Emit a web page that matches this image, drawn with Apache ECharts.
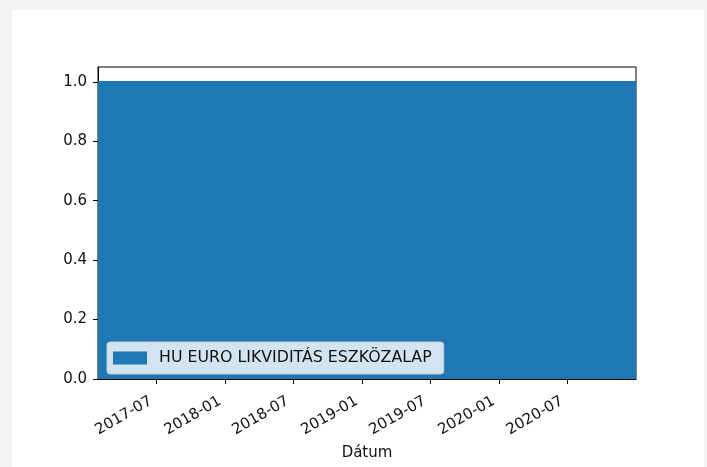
<!DOCTYPE html>
<html>
<head>
<meta charset="utf-8">
<script src="https://cdn.jsdelivr.net/npm/echarts@6/dist/echarts.min.js"></script>
<style>
  html, body { margin: 0; padding: 0; background: #f3f3f3; }
  #panel { position: absolute; left: 12px; top: 10px; width: 692px; height: 457px; background: #ffffff; }
  #chart { position: absolute; left: 0; top: 0; width: 707px; height: 467px; }
</style>
</head>
<body>
<div id="panel"></div>
<div id="chart"></div>
<script>
// ---- data ----
const seriesName = 'HU EURO LIKVIDITÁS ESZKÖZALAP';
const dates = ['2017-01-27', '2020-12-31'];
const values = [1.0, 1.0];
const xTickLabels = ['2017-07', '2018-01', '2018-07', '2019-01', '2019-07', '2020-01', '2020-07'];
const yTicks = [0.0, 0.2, 0.4, 0.6, 0.8, 1.0];
const xAxisTitle = 'Dátum';

const toTs = s => Date.UTC(+s.slice(0, 4), +s.slice(5, 7) - 1, s.length > 7 ? +s.slice(8, 10) : 1);
const xTickValues = xTickLabels.map(toTs);
const fmtMonth = v => { const d = new Date(v); return d.getUTCFullYear() + '-' + String(d.getUTCMonth() + 1).padStart(2, '0'); };

const chart = echarts.init(document.getElementById('chart'), null, { renderer: 'canvas' });
const FONT = 'DejaVu Sans';
chart.setOption({
  animation: false,
  backgroundColor: 'transparent',
  textStyle: { fontFamily: FONT },
  grid: { left: 98, right: 71, top: 67, bottom: 88, outerBoundsMode: 'none', containLabel: false, show: true, borderColor: '#000', borderWidth: 1, backgroundColor: 'transparent' },
  legend: {
    data: [{ name: seriesName, icon: 'rect' }],
    left: 107, top: 342,
    orient: 'vertical',
    itemWidth: 34, itemHeight: 13,
    padding: [8, 12, 8, 6],
    backgroundColor: 'rgba(255,255,255,0.8)',
    borderColor: '#cccccc', borderWidth: 1, borderRadius: 3,
    textStyle: { fontFamily: FONT, fontSize: 15.8, color: '#111', padding: [0, 0, 0, 7] },
    selectedMode: false
  },
  xAxis: {
    type: 'value',
    min: toTs(dates[0]), max: toTs(dates[dates.length - 1]),
    name: xAxisTitle, nameLocation: 'middle', nameGap: 67,
    nameTextStyle: { fontFamily: FONT, fontSize: 15, color: '#111' },
    axisLine: { show: true, onZero: false, lineStyle: { color: '#000', width: 1 } },
    axisTick: { show: true, length: 5, lineStyle: { color: '#000' }, customValues: xTickValues },
    axisLabel: {
      customValues: xTickValues,
      formatter: v => fmtMonth(v),
      rotate: 30, margin: 18,
      padding: [0, 6, 0, 0],
      fontFamily: FONT, fontSize: 15, color: '#111'
    },
    splitLine: { show: false }
  },
  yAxis: {
    type: 'value', min: 0, max: 1.05,
    axisLine: { show: true, lineStyle: { color: '#000', width: 1 } },
    axisTick: { show: true, length: 5, lineStyle: { color: '#000' }, customValues: yTicks },
    axisLabel: {
      customValues: yTicks,
      formatter: v => v.toFixed(1),
      margin: 11, fontFamily: FONT, fontSize: 15, color: '#111'
    },
    splitLine: { show: false }
  },
  series: [{
    name: seriesName,
    type: 'line',
    stack: 'total',
    data: dates.map((d, i) => [toTs(d), values[i]]),
    symbol: 'none',
    color: '#1f77b4',
    lineStyle: { color: '#1f77b4', width: 1.5 },
    areaStyle: { color: '#1f77b4', opacity: 1 },
    z: 1
  }]
});
</script>
</body>
</html>
